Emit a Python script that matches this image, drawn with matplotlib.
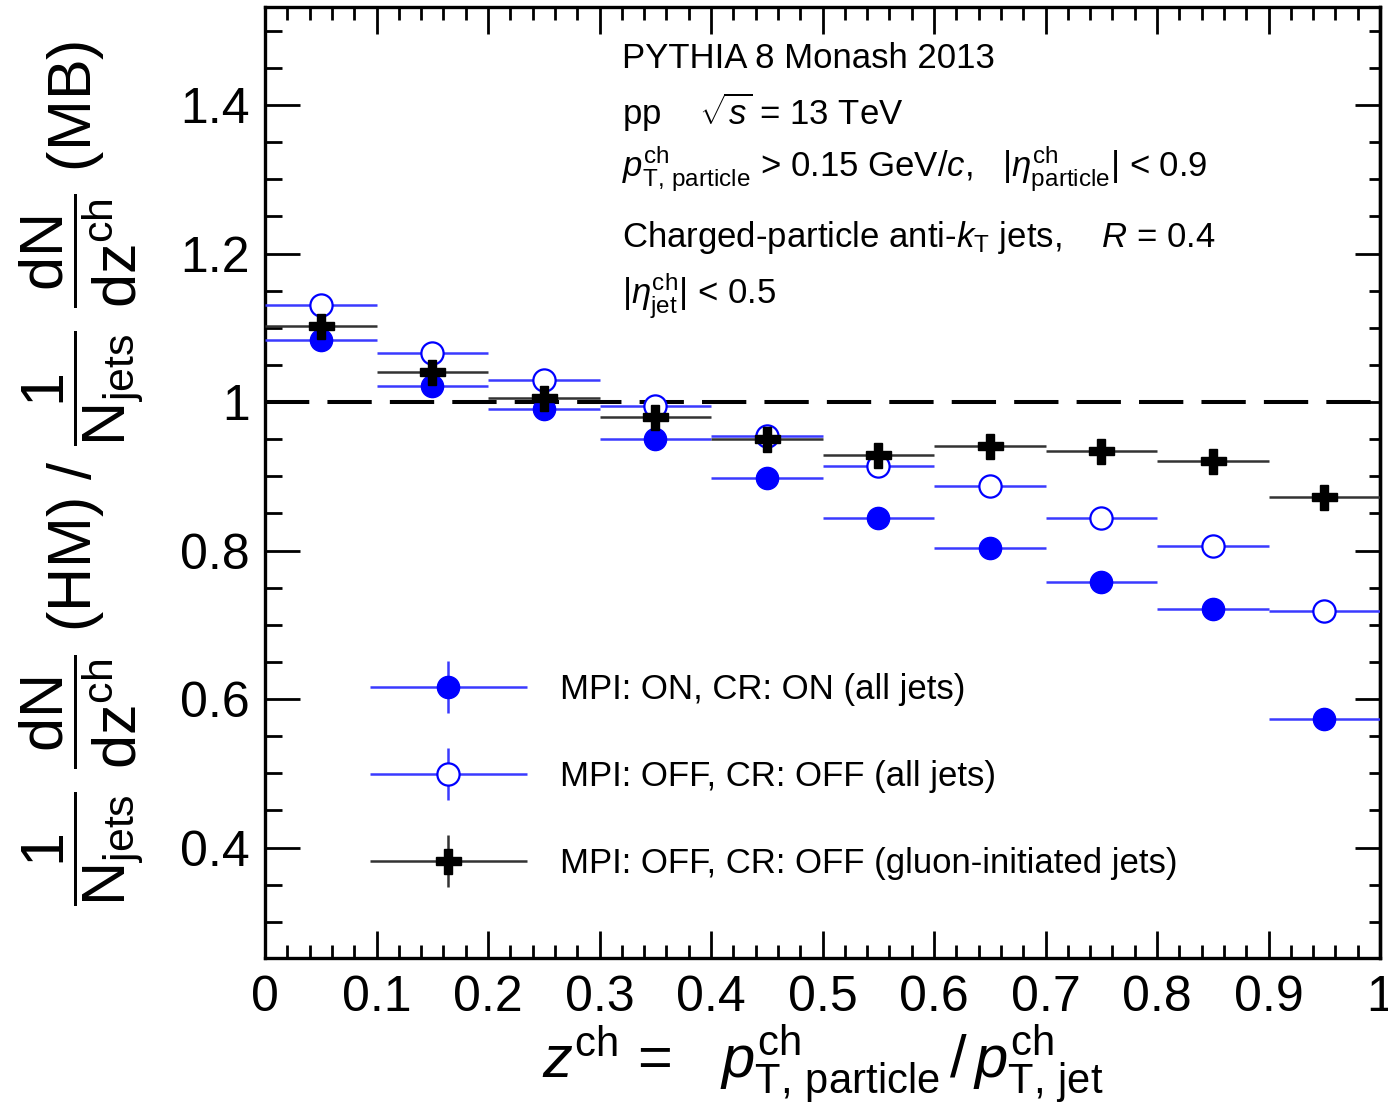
import numpy as np
import matplotlib
matplotlib.use('Agg')
import matplotlib.pyplot as plt
from matplotlib.ticker import MultipleLocator, FuncFormatter
from matplotlib.legend_handler import HandlerErrorbar

plt.rcParams['font.family'] = ['Liberation Sans', 'DejaVu Sans']
plt.rcParams['mathtext.fontset'] = 'custom'
plt.rcParams['mathtext.rm'] = 'Liberation Sans'
plt.rcParams['mathtext.it'] = 'Liberation Sans:italic'
plt.rcParams['mathtext.bf'] = 'Liberation Sans:bold'
plt.rcParams['mathtext.default'] = 'regular'

# z^ch bins and HM/MB ratios
bin_edges = [0.0, 0.1, 0.2, 0.3, 0.4, 0.5, 0.6, 0.7, 0.8, 0.9, 1.0]
ratio_on_all = [1.084, 1.021, 0.991, 0.950, 0.897, 0.844, 0.804, 0.758, 0.721, 0.573]
ratio_off_all = [1.131, 1.066, 1.029, 0.994, 0.954, 0.914, 0.887, 0.844, 0.806, 0.718]
ratio_off_gluon = [1.102, 1.041, 1.006, 0.980, 0.950, 0.928, 0.941, 0.934, 0.921, 0.872]
labels = ['MPI: ON, CR: ON (all jets)',
          'MPI: OFF, CR: OFF (all jets)',
          'MPI: OFF, CR: OFF (gluon-initiated jets)']

edges = np.array(bin_edges)
centers = 0.5 * (edges[1:] + edges[:-1])
half = 0.5 * (edges[1:] - edges[:-1])
zero = np.zeros(len(centers))

fig = plt.figure(figsize=(13.88, 11.18), dpi=100)
ax = fig.add_axes([265/1388, 160/1118, 1115/1388, 951/1118])

ax.axhline(1.0, color='black', lw=2.9, linestyle=(0, (11, 4.5)), zorder=1)

h1 = ax.errorbar(centers, ratio_on_all, xerr=half, yerr=zero, fmt='o', color='blue',
                 ms=16, ecolor='#3a3aff', elinewidth=1.8, capsize=0, zorder=3)
h2 = ax.errorbar(centers, ratio_off_all, xerr=half, yerr=zero, fmt='o', color='blue',
                 mfc='white', mec='blue', mew=1.6, ms=16, ecolor='#3a3aff',
                 elinewidth=1.8, capsize=0, zorder=4)
h3 = ax.errorbar(centers, ratio_off_gluon, xerr=half, yerr=zero, fmt='P', color='black',
                 ms=18, ecolor='#333333', elinewidth=1.8, capsize=0, zorder=5)

ax.set_xlim(0, 1)
ax.set_ylim(0.2512, 1.532)

fmt = FuncFormatter(lambda v, p: '%g' % round(v, 2))
ax.xaxis.set_major_locator(MultipleLocator(0.1))
ax.xaxis.set_minor_locator(MultipleLocator(0.02))
ax.yaxis.set_major_locator(MultipleLocator(0.2))
ax.yaxis.set_minor_locator(MultipleLocator(0.05))
ax.xaxis.set_major_formatter(fmt)
ax.yaxis.set_major_formatter(fmt)

ax.tick_params(axis='x', which='major', direction='in', length=19.5, width=2.0,
               labelsize=36, pad=12, top=True)
ax.tick_params(axis='x', which='minor', direction='in', length=9.5, width=2.0, top=True)
ax.tick_params(axis='y', which='major', direction='in', length=25, width=2.0,
               labelsize=36, pad=11)
ax.tick_params(axis='y', which='minor', direction='in', length=12.5, width=2.0)
for s in ax.spines.values():
    s.set_linewidth(2.4)

# right side ticks are shorter than the left ones
sec = ax.secondary_yaxis('right')
sec.yaxis.set_major_locator(MultipleLocator(0.2))
sec.yaxis.set_minor_locator(MultipleLocator(0.05))
sec.tick_params(which='major', direction='in', length=18, width=2.0, labelright=False)
sec.tick_params(which='minor', direction='in', length=8, width=2.0)
sec.spines['right'].set_linewidth(2.4)

ylab = (r'$\dfrac{1}{N_{\rm jets}}\ \dfrac{dN}{dz^{ch}}$ (HM) / '
        r'$\dfrac{1}{N_{\rm jets}}\ \dfrac{dN}{dz^{ch}}$ (MB)')
ax.set_ylabel(ylab, fontsize=44)
ax.yaxis.label.set_va('center')
ax.yaxis.set_label_coords(-0.164, 0.51)

ax.set_xlabel(r'$\mathit{z}^{\rm ch}$ =   $\mathit{p}^{\rm ch}_{\rm T,\,particle}\,/\,\mathit{p}^{\rm ch}_{\rm T,\,jet}$',
              fontsize=43)
ax.xaxis.set_label_coords(0.5, -0.068)

info = [
    'PYTHIA 8 Monash 2013',
    r'pp    $\sqrt{\mathit{s}}$ = 13 TeV',
    r'$\mathit{p}^{\rm ch}_{\rm T,\,particle}$ > 0.15 GeV/$\mathit{c}$,   $|\mathit{\eta}^{\rm ch}_{\rm particle}|$ < 0.9',
    r'Charged-particle anti-$\mathit{k}_{\rm T}$ jets,    $\mathit{R}$ = 0.4',
    r'$|\mathit{\eta}^{\rm ch}_{\rm jet}|$ < 0.5',
]
info_y = [0.936, 0.876, 0.821, 0.748, 0.687]
for t, yy in zip(info, info_y):
    ax.text(0.320, yy, t, transform=ax.transAxes, fontsize=25, va='baseline', ha='left')

hm = {h: HandlerErrorbar(xerr_size=2.26, yerr_size=0.75) for h in (h1, h2, h3)}
ax.legend([h1, h2, h3], labels, loc='upper left', bbox_to_anchor=(0.094, 0.300),
          frameon=False, fontsize=25, handlelength=4.52, handletextpad=0.95,
          borderpad=0, borderaxespad=0, labelspacing=1.56, handler_map=hm)

fig.savefig('out.png', dpi=100)
